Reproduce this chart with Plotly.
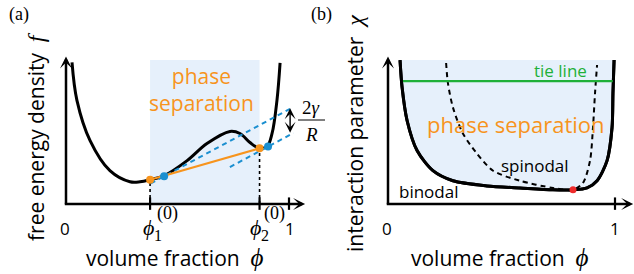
import plotly.graph_objects as go

W, H = 634, 274

# ---------------- data: panel (a) free energy ----------------
phi_a = [0.027, 0.049, 0.108, 0.197, 0.287, 0.332, 0.377, 0.439, 0.543, 0.632,
         0.735, 0.780, 0.825, 0.861, 0.901, 0.924, 0.946, 0.960]
f_a = [0.970, 0.710, 0.434, 0.228, 0.152, 0.152, 0.166, 0.193, 0.297, 0.414,
       0.497, 0.483, 0.421, 0.386, 0.393, 0.483, 0.710, 0.966]
phi_coex = [0.377, 0.868]          # orange common tangent points
f_coex = [0.166, 0.381]
phi_drop = [0.440, 0.906]          # blue points (with surface tension)
f_drop = [0.190, 0.393]
tan_upper_x = [0.38, 1.02]
tan_upper_y = [0.141, 0.664]
tan_lower_x = [0.735, 1.02]
tan_lower_y = [0.253, 0.486]
gap_x = 1.005
gap_y = [0.655, 0.478]
shade_a = [0.377, 0.868, 0.986]    # x0, x1, top
ticks_a = [0.377, 0.868, 1.0]

# ---------------- data: panel (b) phase diagram ----------------
phi_bin = [0.053, 0.062, 0.084, 0.128, 0.198, 0.286, 0.436, 0.581, 0.727, 0.815,
           0.877, 0.921, 0.965, 0.987, 0.991, 0.996]
chi_bin = [0.986, 0.800, 0.572, 0.366, 0.228, 0.159, 0.124, 0.110, 0.097, 0.097,
           0.110, 0.159, 0.297, 0.524, 0.759, 0.986]
phi_spin = [0.256, 0.264, 0.286, 0.330, 0.392, 0.463, 0.581, 0.727, 0.815,
            0.859, 0.890, 0.903, 0.912, 0.921]
chi_spin = [0.966, 0.828, 0.662, 0.483, 0.345, 0.228, 0.159, 0.110, 0.097,
            0.145, 0.297, 0.524, 0.759, 0.952]
tie_x = [0.066, 0.99]
tie_y = [0.842, 0.842]
crit = [0.815, 0.097]
ticks_b = [1.0]

BLACK = "#000000"
ORANGE = "#f7941d"
BLUE = "#1b8fd0"
GREEN = "#1fb038"
RED = "#ee2b2b"
SHADE = "#e6f0fb"
SANS = "Open Sans"
SERIF = "Liberation Serif"


def rng(px0, px1, L, R):
    s = px1 - px0
    return [(L - px0) / s, (R - px0) / s]


# y mapping: y=0 at py 204, y=1 at py 58
Y0, Y1 = 204, 58
YL, YT = 216, 40
yr = [(Y0 - YL) / (Y0 - Y1), (Y0 - YT) / (Y0 - Y1)]
ydom = [1 - YL / H, 1 - YT / H]

A0, A1, AL, AR = 66, 289, 44, 322
B0, B1, BL, BR = 388, 615, 377, 634

fig = go.Figure()

# panel a
fig.add_shape(type="rect", xref="x", yref="y", x0=shade_a[0], x1=shade_a[1], y0=0, y1=shade_a[2],
              fillcolor=SHADE, line_width=0, layer="below")
for xv, yv in zip(phi_coex, f_coex):
    fig.add_trace(go.Scatter(x=[xv, xv], y=[0, yv], mode="lines", line=dict(color=BLACK, width=1.6, dash="dot"),
                             xaxis="x", yaxis="y", showlegend=False))
fig.add_trace(go.Scatter(x=phi_a, y=f_a, mode="lines", line=dict(color=BLACK, width=3, shape="spline", smoothing=1.0),
                         xaxis="x", yaxis="y", showlegend=False))
fig.add_trace(go.Scatter(x=tan_upper_x, y=tan_upper_y, mode="lines", line=dict(color=BLUE, width=2, dash="5px,4px"),
                         xaxis="x", yaxis="y", showlegend=False))
fig.add_trace(go.Scatter(x=tan_lower_x, y=tan_lower_y, mode="lines", line=dict(color=BLUE, width=2, dash="5px,4px"),
                         xaxis="x", yaxis="y", showlegend=False))
fig.add_trace(go.Scatter(x=phi_coex, y=f_coex, mode="lines+markers", line=dict(color=ORANGE, width=2.2),
                         marker=dict(color=ORANGE, size=8), xaxis="x", yaxis="y", showlegend=False))
fig.add_trace(go.Scatter(x=phi_drop, y=f_drop, mode="markers",
                         marker=dict(color=BLUE, size=8), xaxis="x", yaxis="y", showlegend=False))
for t in ticks_a:
    fig.add_shape(type="line", xref="x", yref="y", x0=t, x1=t, y0=-0.04, y1=0.045, line=dict(color=BLACK, width=2.2))

# panel b
fig.add_trace(go.Scatter(x=phi_bin, y=chi_bin, mode="lines", fill="toself", fillcolor=SHADE,
                         line=dict(color=BLACK, width=3, shape="spline", smoothing=0.8),
                         xaxis="x2", yaxis="y2", showlegend=False))
fig.add_trace(go.Scatter(x=phi_spin, y=chi_spin, mode="lines",
                         line=dict(color=BLACK, width=2, dash="5px,4px", shape="spline", smoothing=0.8),
                         xaxis="x2", yaxis="y2", showlegend=False))
fig.add_trace(go.Scatter(x=phi_bin, y=chi_bin, mode="lines",
                         line=dict(color=BLACK, width=3, shape="spline", smoothing=0.8),
                         xaxis="x2", yaxis="y2", showlegend=False))
fig.add_trace(go.Scatter(x=tie_x, y=tie_y, mode="lines", line=dict(color=GREEN, width=2.2),
                         xaxis="x2", yaxis="y2", showlegend=False))
fig.add_trace(go.Scatter(x=[crit[0]], y=[crit[1]], mode="markers", marker=dict(color=RED, size=7),
                         xaxis="x2", yaxis="y2", showlegend=False))
for t in ticks_b:
    fig.add_shape(type="line", xref="x2", yref="y2", x0=t, x1=t, y0=-0.04, y1=0.045, line=dict(color=BLACK, width=2.2))

ann = []


def arrow(xr, yr_, x, y, ax, ay, both=False, width=2.5, size=0.8):
    ann.append(dict(xref=xr, yref=yr_, axref=xr, ayref=yr_, x=x, y=y, ax=ax, ay=ay, text="",
                    showarrow=True, arrowhead=3, arrowsize=size, arrowwidth=width, arrowcolor=BLACK,
                    arrowside="end+start" if both else "end", startarrowhead=3, startarrowsize=size))


# axes with arrows
arrow("x", "y", 1.072, 0, -0.012, 0)
arrow("x", "y", 0, 1.01, 0, -0.012)
arrow("x2", "y2", 1.08, 0, -0.012, 0)
arrow("x2", "y2", 0, 1.01, 0, -0.012)
arrow("x", "y", gap_x, gap_y[0], gap_x, gap_y[1], both=True, width=1.4, size=1.3)


def P(px, py):
    return px / W, 1 - py / H


def text(px, py, s, size, color=BLACK, family=SANS, angle=0):
    x, y = P(px, py)
    ann.append(dict(xref="paper", yref="paper", x=x, y=y, text=s, showarrow=False, xanchor="center",
                    yanchor="middle", align="center", textangle=angle,
                    font=dict(size=size, color=color, family=family)))


def it(s, size):
    return f"<span style='font-family:{SERIF};font-size:{size}px'><i>{s}</i></span>"


PHI = "\u03d5"

text(19, 15, "(a)", 18, family=SERIF)
text(321, 15, "(b)", 18, family=SERIF)

text(201, 90, "phase<br>separation", 21, ORANGE)

text(36, 137, "free energy density  " + it("f", 24), 21, angle=-90)
text(355, 133, "interaction parameter  " + it("χ", 24), 21, angle=-90)
text(175, 258, "volume fraction  " + it(PHI, 25), 21)
text(500, 258, "volume fraction  " + it(PHI, 25), 21)

text(65, 228, "0", 17)
text(290, 228, "1", 17)
text(387, 228, "0", 17)
text(615, 228, "1", 17)

# phi_1^(0), phi_2^(0)
text(148, 227, f"<i>{PHI}</i>", 22, family=SERIF)
text(167, 213, "(0)", 18, family=SERIF)
text(158, 235, "1", 16, family=SERIF)
text(255, 227, f"<i>{PHI}</i>", 22, family=SERIF)
text(274, 213, "(0)", 18, family=SERIF)
text(265, 235, "2", 16, family=SERIF)

# 2gamma / R
text(311, 107, "2<i>γ</i>", 19, family=SERIF)
text(311, 134, "<i>R</i>", 19, family=SERIF)
fig.add_shape(type="line", xref="paper", yref="paper", x0=298 / W, x1=325 / W, y0=1 - 120 / H, y1=1 - 120 / H,
              line=dict(color=BLACK, width=1))

text(560, 71, "tie line", 17, GREEN)
text(516, 124, "phase separation", 22, ORANGE)
text(535, 165, "spinodal", 17)
text(428, 191, "binodal", 17)

ax_common = dict(visible=False, showgrid=False, zeroline=False, fixedrange=True)
fig.update_layout(
    width=W, height=H, margin=dict(l=0, r=0, t=0, b=0),
    paper_bgcolor="white", plot_bgcolor="rgba(0,0,0,0)",
    xaxis=dict(domain=[AL / W, AR / W], range=rng(A0, A1, AL, AR), anchor="y", **ax_common),
    yaxis=dict(domain=ydom, range=yr, anchor="x", **ax_common),
    xaxis2=dict(domain=[BL / W, BR / W], range=rng(B0, B1, BL, BR), anchor="y2", **ax_common),
    yaxis2=dict(domain=ydom, range=yr, anchor="x2", **ax_common),
    annotations=ann,
    showlegend=False,
)

fig.write_html("out.html", config={"displayModeBar": False},
               post_script="document.body.style.margin='0';document.body.style.padding='0';")
